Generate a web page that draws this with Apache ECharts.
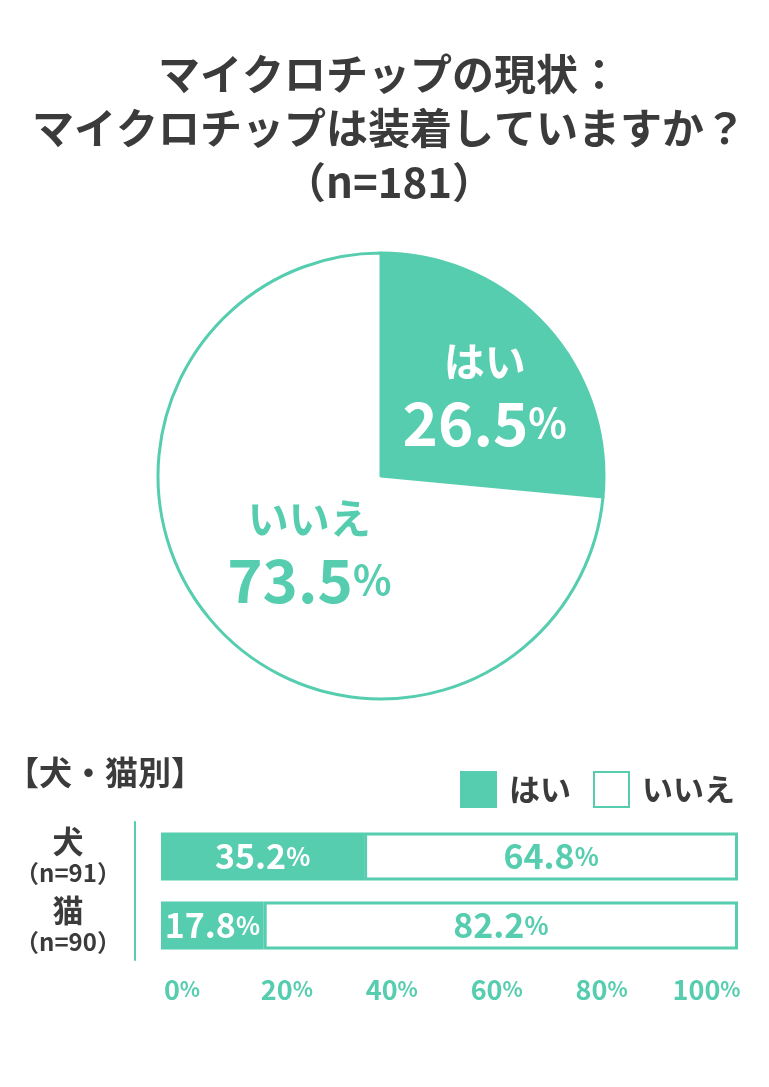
<!DOCTYPE html>
<html style="height: 100%">
<head>
<meta charset="utf-8">
</head>
<body style="height: 100%; margin: 0; background: #fff">
<div id="container" style="width: 769px; height: 1087px"></div>
<script src="https://cdn.jsdelivr.net/npm/echarts@6/dist/echarts.min.js"></script>
<script type="text/javascript">
var TEAL = '#55cdae';
var DARK = '#3b3b3b';
var FONT = '"Noto Sans CJK JP", "Noto Sans", sans-serif';

// pie: overall
var pieNames = ['はい', 'いいえ'];
var pieValues = [26.5, 73.5];

// bars: by species
var groups = ['犬', '猫'];
var groupN = ['（n=91）', '（n=90）'];
var yesValues = [35.2, 17.8];
var noValues = [64.8, 82.2];
var xTicks = [0, 20, 40, 60, 80, 100];

var dom = document.getElementById('container');
var myChart = echarts.init(dom);

function pctRich(color, big, small) {
    return {
        v: {color: color, fontSize: big, fontWeight: 'bold', fontFamily: FONT},
        p: {color: color, fontSize: small, fontWeight: 'bold', fontFamily: FONT}
    };
}

function pieRich(color) {
    return {
        n: {color: color, fontSize: 41, fontWeight: 'bold', lineHeight: 60, fontFamily: FONT},
        v: {color: color, fontSize: 60, fontWeight: 'bold', lineHeight: 64, fontFamily: FONT},
        p: {color: color, fontSize: 40, fontWeight: 'bold', lineHeight: 64, fontFamily: FONT}
    };
}

var option = {
    animation: false,
    textStyle: {fontFamily: FONT},
    title: [
        {
            text: 'マイクロチップの現状：\nマイクロチップは装着していますか？\n（n=181）',
            left: 384,
            top: 42,
            textAlign: 'center',
            textStyle: {
                color: DARK,
                fontSize: 42,
                fontWeight: 'bold',
                lineHeight: 54,
                fontFamily: FONT
            }
        },
        {
            text: '【犬・猫別】',
            left: 1,
            top: 751,
            textStyle: {color: DARK, fontSize: 33, fontWeight: 'bold', fontFamily: FONT}
        }
    ],
    legend: {
        right: 29,
        top: 766,
        itemWidth: 35,
        itemHeight: 35,
        itemGap: 22,
        icon: 'rect',
        data: pieNames,
        textStyle: {
            color: DARK,
            fontSize: 31,
            fontWeight: 'bold',
            fontFamily: FONT,
            padding: [0, 0, 0, 8]
        }
    },
    grid: {
        left: 161,
        right: 31,
        top: 822,
        height: 138
    },
    xAxis: [
        {
            type: 'value',
            min: 0,
            max: 100,
            interval: 20,
            axisLine: {show: false},
            axisTick: {show: false},
            splitLine: {show: false},
            axisLabel: {show: false}
        },
        {
            // label-only axis, spread like the reference
            type: 'value',
            position: 'bottom',
            min: -4,
            max: 106,
            interval: 2,
            axisLine: {show: false},
            axisTick: {show: false},
            splitLine: {show: false},
            axisLabel: {
                margin: 16,
                formatter: function (v) {
                    return xTicks.indexOf(v) >= 0 ? '{v|' + v + '}{p|%}' : '';
                },
                rich: pctRich(TEAL, 27, 21)
            }
        }
    ],
    yAxis: {
        type: 'category',
        inverse: true,
        data: groups,
        offset: 26,
        axisLine: {onZero: false, lineStyle: {color: TEAL, width: 2}},
        axisTick: {show: false},
        axisLabel: {
            margin: 67,
            align: 'center',
            formatter: function (v, i) {
                return '{a|' + v + '}\n{b|' + groupN[i] + '}';
            },
            rich: {
                a: {color: DARK, fontSize: 31, fontWeight: 'bold', lineHeight: 32, fontFamily: FONT},
                b: {color: DARK, fontSize: 24, fontWeight: 'bold', lineHeight: 30, fontFamily: FONT}
            }
        }
    },
    series: [
        {
            type: 'pie',
            center: [381, 476],
            radius: 223,
            startAngle: 90,
            clockwise: true,
            legendHoverLink: false,
            emphasis: {disabled: true},
            itemStyle: {borderColor: TEAL, borderWidth: 3},
            labelLine: {show: false},
            label: {
                position: 'inside',
                formatter: function (p) {
                    return '{n|' + p.name + '}\n{v|' + p.value + '}{p|%}';
                }
            },
            data: [
                {
                    name: pieNames[0],
                    value: pieValues[0],
                    itemStyle: {color: TEAL},
                    label: {rich: pieRich('#fff')}
                },
                {
                    name: pieNames[1],
                    value: pieValues[1],
                    itemStyle: {color: '#fff'},
                    label: {rich: pieRich(TEAL)}
                }
            ],
            labelLayout: function (params) {
                return params.dataIndex === 0 ? {dx: 19, dy: -6} : {dx: 13, dy: -3};
            }
        },
        {
            name: pieNames[0],
            type: 'bar',
            stack: 'all',
            barWidth: 48,
            xAxisIndex: 0,
            data: yesValues,
            itemStyle: {color: TEAL, borderColor: TEAL, borderWidth: 3},
            label: {
                show: true,
                position: 'inside',
                formatter: '{v|{c}}{p|%}',
                rich: pctRich('#fff', 34, 25)
            }
        },
        {
            name: pieNames[1],
            type: 'bar',
            stack: 'all',
            barWidth: 48,
            xAxisIndex: 0,
            data: noValues,
            itemStyle: {color: '#fff', borderColor: TEAL, borderWidth: 3},
            label: {
                show: true,
                position: 'inside',
                formatter: '{v|{c}}{p|%}',
                rich: pctRich(TEAL, 34, 25)
            }
        }
    ]
};

myChart.setOption(option, true);
</script>
</body>
</html>
